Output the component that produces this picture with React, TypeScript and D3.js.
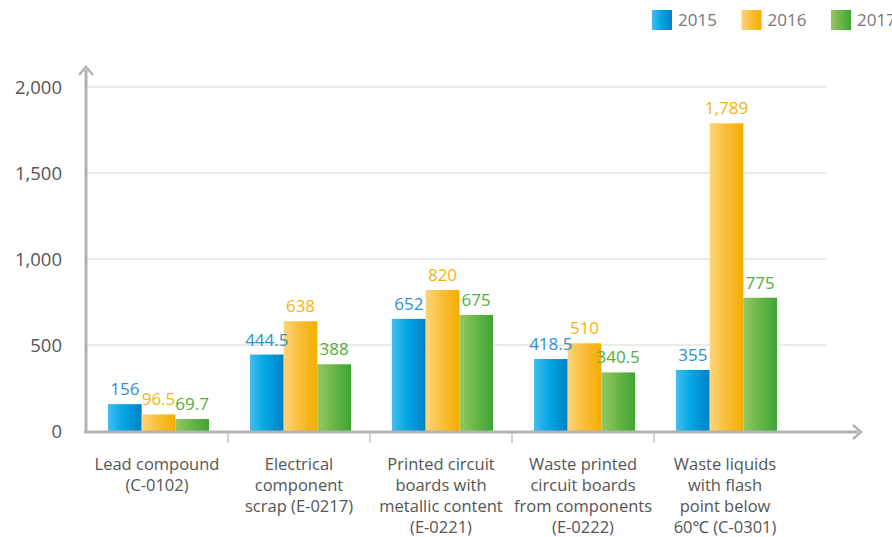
import { useMemo } from "react";
import * as d3 from "d3";

const categories = [
  ["Lead compound", "(C-0102)"],
  ["Electrical", "component", "scrap (E-0217)"],
  ["Printed circuit", "boards with", "metallic content", "(E-0221)"],
  ["Waste printed", "circuit boards", "from components", "(E-0222)"],
  ["Waste liquids", "with flash", "point below", "60℃ (C-0301)"],
];
const years = ["2015", "2016", "2017"];
const values2015 = [156, 444.5, 652, 418.5, 355];
const values2016 = [96.5, 638, 820, 510, 1789];
const values2017 = [69.7, 388, 675, 340.5, 775];
const yTicks = [0, 500, 1000, 1500, 2000];

const gradStops = [
  ["#45bdee", "#00a7e3", "#0080c6"],
  ["#fcd47a", "#f9c03c", "#f5ac00"],
  ["#95c964", "#6cb74a", "#3fa535"],
];
const labelColors = ["#2f8fd3", "#f5b30d", "#4fae3f"];

const W = 892;
const H = 537;
const FONT = "'Open Sans', 'Noto Sans', sans-serif";

export default function App() {
  const series = [values2015, values2016, values2017];
  const x0 = d3.scaleBand<number>().domain(d3.range(categories.length)).range([86, 796]);
  const x1 = d3.scaleBand<number>().domain([0, 1, 2]).range([22, 123]);
  const y = d3.scaleLinear().domain([0, 2000]).range([431, 87]);
  const fmt = (v: number) => (Number.isInteger(v) ? d3.format(",")(v) : String(v));

  const bars = useMemo(() => {
    const out: { ci: number; si: number; v: number }[] = [];
    series.forEach((s, si) => s.forEach((v, ci) => out.push({ ci, si, v })));
    return out;
  }, []);

  return (
    <svg width={W} height={H} style={{ position: "absolute", left: 0, top: 0, fontFamily: FONT }}>
      <defs>
        {gradStops.map((st, i) => (
          <linearGradient key={i} id={`g${i}`} x1="0" x2="1" y1="0" y2="0">
            <stop offset="0%" stopColor={st[0]} />
            <stop offset="45%" stopColor={st[1]} />
            <stop offset="100%" stopColor={st[2]} />
          </linearGradient>
        ))}
      </defs>
      <rect width={W} height={H} fill="#fff" />

      {/* grid */}
      {yTicks.slice(1).map((t) => (
        <line key={t} x1={86} x2={827} y1={y(t)} y2={y(t)} stroke="#d6d6d6" strokeWidth={1} />
      ))}
      {yTicks.map((t) => (
        <text key={t} x={62} y={y(t)} dy="0.36em" textAnchor="end" fontSize={18.5} fill="#555">
          {d3.format(",")(t)}
        </text>
      ))}

      {/* bars */}
      {bars.map((b, i) => (
        <rect
          key={i}
          x={(x0(b.ci) as number) + (x1(b.si) as number)}
          y={y(b.v)}
          width={x1.bandwidth()}
          height={y(0) - y(b.v)}
          fill={`url(#g${b.si})`}
        />
      ))}
      {bars.map((b, i) => (
        <text
          key={i}
          x={(x0(b.ci) as number) + (x1(b.si) as number) + x1.bandwidth() / 2}
          y={y(b.v) - 9}
          textAnchor="middle"
          fontSize={17}
          fill={labelColors[b.si]}
        >
          {fmt(b.v)}
        </text>
      ))}

      {/* axes */}
      <line x1={86} x2={86} y1={431} y2={70} stroke="#b3b3b3" strokeWidth={3} />
      <path d="M79,75 L86,67 L93,75" fill="none" stroke="#b3b3b3" strokeWidth={2.5} />
      <line x1={84} x2={858} y1={432} y2={432} stroke="#b3b3b3" strokeWidth={3} />
      <path d="M853,425 L861,432 L853,439" fill="none" stroke="#b3b3b3" strokeWidth={2.5} />
      {d3.range(1, categories.length).map((i) => (
        <line key={i} x1={x0(i) as number} x2={x0(i) as number} y1={433} y2={443} stroke="#c4c4c4" strokeWidth={1.5} />
      ))}

      {/* category labels */}
      {categories.map((lines, i) => (
        <text key={i} textAnchor="middle" fontSize={16.5} fill="#555">
          {lines.map((l, j) => (
            <tspan key={j} x={(x0(i) as number) + x0.bandwidth() / 2} y={470 + j * 21}>
              {l}
            </tspan>
          ))}
        </text>
      ))}

      {/* legend */}
      {years.map((yr, i) => (
        <g key={yr} transform={`translate(${652 + i * 89.5},10)`}>
          <rect width={20} height={20} fill={`url(#g${i})`} />
          <text x={26} y={16} fontSize={17} fill="#777">
            {yr}
          </text>
        </g>
      ))}
    </svg>
  );
}
